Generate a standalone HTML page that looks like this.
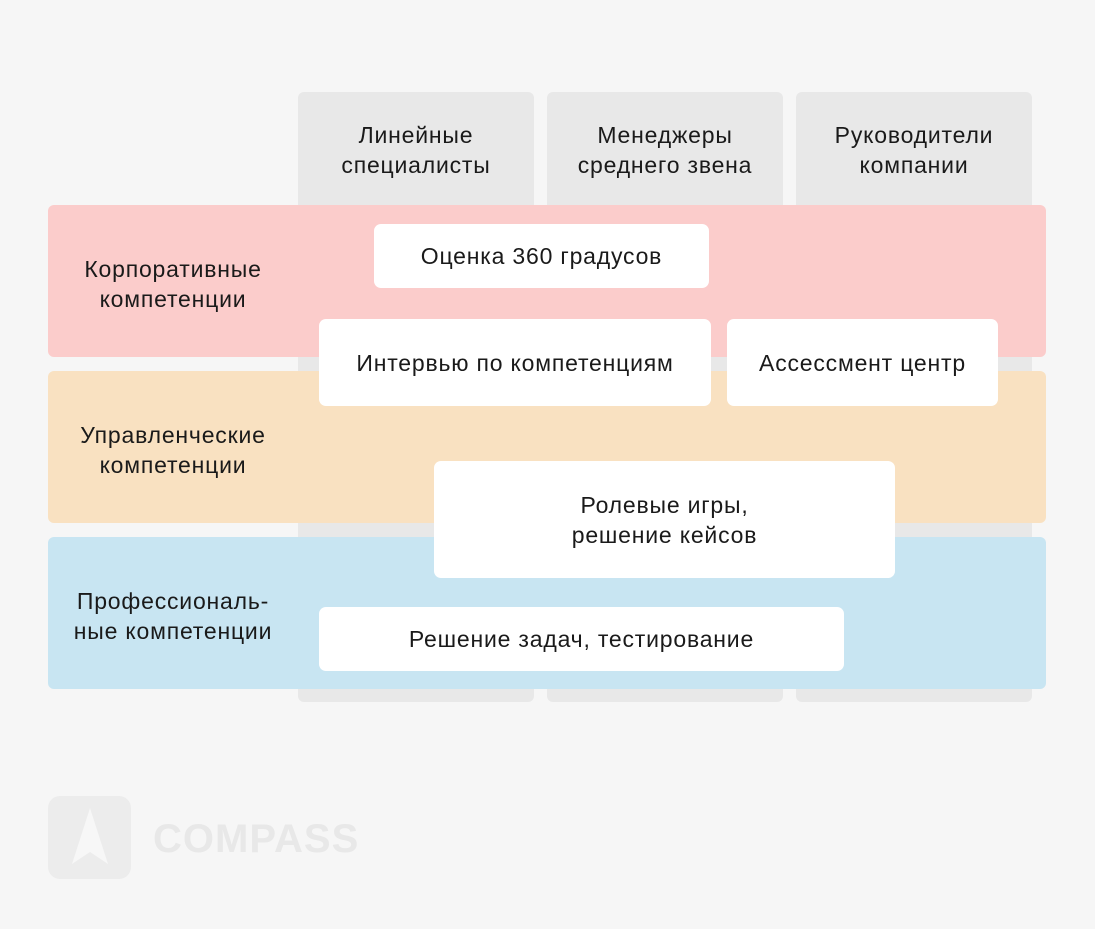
<!DOCTYPE html><html><head><meta charset="utf-8"><style>
body{margin:0;width:1095px;height:929px;background:#f6f6f6;position:relative;overflow:hidden;font-family:"Liberation Sans","DejaVu Sans",sans-serif;color:#1a1a1a}
div{position:absolute;box-sizing:border-box}
.c{background:#e8e8e8;border-radius:6px;top:92px;height:610px;width:236px}
.h{display:flex;align-items:center;justify-content:center;text-align:center;font-size:23px;letter-spacing:0.8px;line-height:30px;white-space:nowrap}
.b{left:48px;width:998px;height:152px;border-radius:6px}
.w{background:#fff;border-radius:7px}
.l{left:48px;width:250px}
</style></head><body>
<div class="c" style="left:298px"></div>
<div class="c" style="left:547px"></div>
<div class="c" style="left:796px"></div>
<div class="h" style="left:298px;top:118px;width:236px;height:64px">Линейные<br>специалисты</div>
<div class="h" style="left:547px;top:118px;width:236px;height:64px">Менеджеры<br>среднего звена</div>
<div class="h" style="left:796px;top:118px;width:236px;height:64px">Руководители<br>компании</div>
<div class="b" style="top:205px;background:#fbcccb"></div>
<div class="b" style="top:371px;background:#f9e1c1"></div>
<div class="b" style="top:537px;background:#c8e5f2"></div>
<div class="h l" style="top:252px;height:64px">Корпоративные<br>компетенции</div>
<div class="h l" style="top:418px;height:64px">Управленческие<br>компетенции</div>
<div class="h l" style="top:584px;height:64px">Профессиональ-<br>ные компетенции</div>
<div class="w h" style="left:374px;top:224px;width:335px;height:64px">Оценка 360 градусов</div>
<div class="w h" style="left:319px;top:319px;width:392px;height:87px">Интервью по компетенциям</div>
<div class="w h" style="left:727px;top:319px;width:271px;height:87px">Ассессмент центр</div>
<div class="w h" style="left:434px;top:461px;width:461px;height:117px">Ролевые игры,<br>решение кейсов</div>
<div class="w h" style="left:319px;top:607px;width:525px;height:64px">Решение задач, тестирование</div>
<div style="left:48px;top:796px;width:83px;height:83px;background:#ececec;border-radius:12px"></div>
<svg style="position:absolute;left:48px;top:796px" width="83" height="83"><polygon points="42,12 24,68 42,56 60,68" fill="#f7f7f7"/></svg>
<div style="left:153px;top:814px;font-size:40px;line-height:50px;color:#e8e8e8;font-weight:bold;letter-spacing:1px">COMPASS</div>
</body></html>
